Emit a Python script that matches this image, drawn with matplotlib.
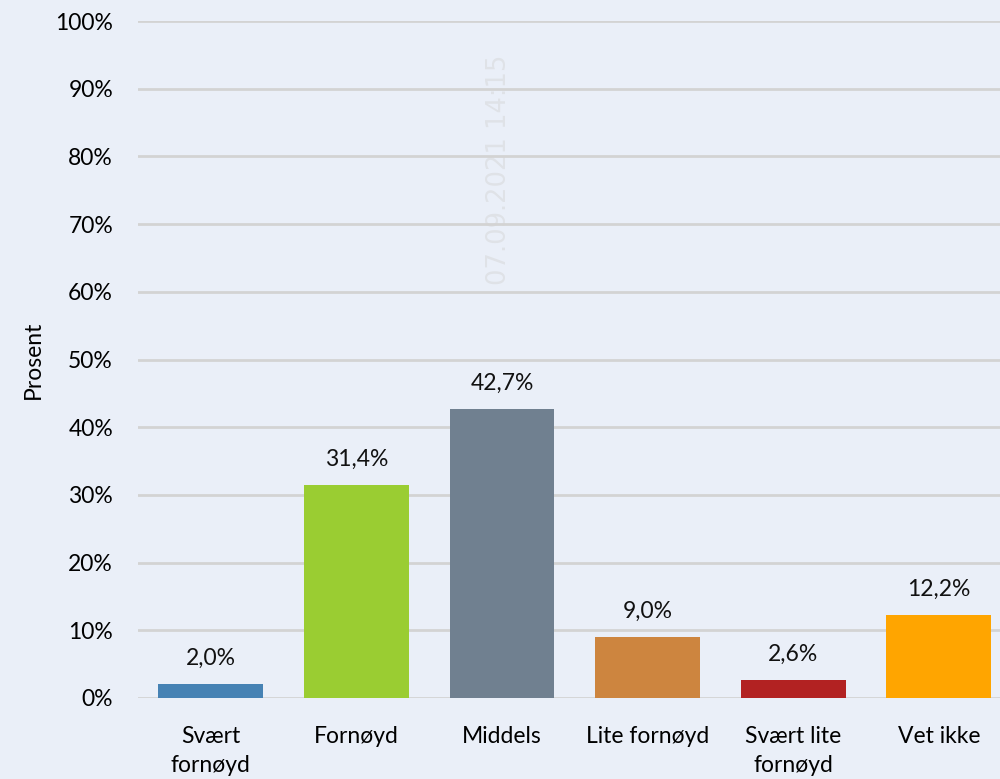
import matplotlib.pyplot as plt
from matplotlib.ticker import FuncFormatter

plt.rcParams['font.family'] = ['Lato', 'DejaVu Sans']

categories = ["Svært\nfornøyd", "Fornøyd", "Middels", "Lite fornøyd", "Svært lite\nfornøyd", "Vet ikke"]
values = [2.0, 31.4, 42.7, 9.0, 2.6, 12.2]
colors = ["#4682B4", "#9ACD32", "#708090", "#CD853F", "#B22222", "#FFA500"]
stamp = "07.09.2021 14:15"

bg = "#EAEFF8"
fs = 16.5
fig = plt.figure(figsize=(10, 7.79), dpi=100, facecolor=bg)
ax = fig.add_axes([0.138, 0.104, 0.8736, 0.869], facecolor=bg)

x = list(range(len(categories)))
ax.bar(x, values, width=0.72, color=colors, zorder=3)

for xi, v in zip(x, values):
    ax.annotate(("%.1f%%" % v).replace(".", ","), (xi, v), xytext=(0, 11),
                textcoords="offset points", ha="center", va="bottom",
                fontsize=fs, color="#111111", zorder=4)

ax.set_xlim(-0.5, 5.5)
ax.set_ylim(0, 100)
ax.set_yticks(range(0, 101, 10))
ax.yaxis.set_major_formatter(FuncFormatter(lambda v, p: "%d%%" % v))
ax.set_xticks(x)
ax.set_xticklabels(categories, fontsize=fs, linespacing=1.5)
ax.tick_params(axis="y", labelsize=fs, length=0, pad=18)
ax.tick_params(axis="x", length=0, pad=20)
ax.grid(axis="y", color="#D3D3D3", linewidth=2, zorder=1)
for s in ax.spines.values():
    s.set_visible(False)

ax.set_ylabel("Prosent", fontsize=fs)
ax.yaxis.set_label_coords(-0.108, 0.5)

ax.text(0.413, 0.78, stamp, transform=ax.transAxes, rotation=90,
        ha="center", va="center", fontsize=18.5, color="#DFE2E7",
        family="DejaVu Sans", zorder=0)

fig.savefig("out.png", dpi=100, facecolor=bg)
